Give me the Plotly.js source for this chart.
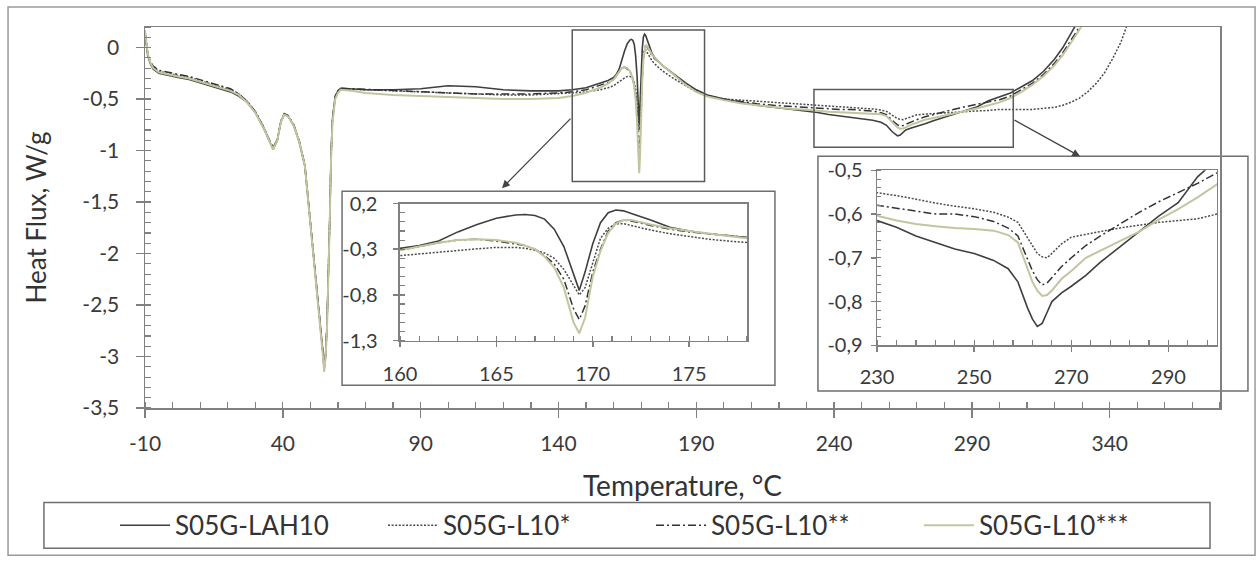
<!DOCTYPE html>
<html>
<head>
<meta charset="utf-8">
<script src="https://cdn.plot.ly/plotly-3.0.1.min.js"></script>
<style>html,body{margin:0;padding:0;background:#fff;}#chart{width:1258px;height:561px;}</style>
</head>
<body>
<div id="chart"></div>
<script>
// ---------------- DATA ----------------
const seriesNames = ['S05G-LAH10', 'S05G-L10*', 'S05G-L10**', 'S05G-L10***'];

const temperature = [
  -10, -9.5, -9, -8, -7, -5, -2, 2, 6, 10,
  14, 18, 21, 24, 27, 30, 33, 35, 36.5, 38,
  39.3, 40.5, 42, 44, 46, 48, 50, 52, 53.5, 54.5,
  55, 55.5, 56, 56.5, 57, 57.5, 58, 59, 60, 61,
  65, 70, 80, 90, 100, 110, 120, 130, 140, 145,
  150, 155, 158, 160, 161, 162, 163, 164, 165, 166,
  166.5, 167, 167.5, 168, 168.5, 169, 169.3, 169.6, 170, 170.4,
  170.8, 171.2, 171.6, 172, 173, 174, 175, 176, 177, 178,
  180, 183, 186, 190, 194, 200, 206, 212, 218, 224,
  230, 234, 238, 242, 246, 250, 254, 257, 259, 261,
  262, 263, 264, 265, 266, 268, 270, 273, 276, 280,
  284, 288, 292, 296, 300, 304, 308, 312, 316, 320,
  323, 326, 329, 332, 335, 338, 341, 344, 347
];

const fluxLAH10 = [
  0.15, 0.02, -0.08, -0.16, -0.21, -0.25, -0.27, -0.29, -0.31, -0.34,
  -0.37, -0.40, -0.43, -0.47, -0.53, -0.63, -0.78, -0.90, -0.99, -0.90,
  -0.72, -0.65, -0.67, -0.76, -0.92, -1.15, -1.70, -2.20, -2.63, -2.95,
  -3.12, -3.00, -2.72, -2.28, -1.70, -1.05, -0.70, -0.48, -0.42, -0.395,
  -0.40, -0.41, -0.41, -0.40, -0.37, -0.38, -0.41, -0.42, -0.42, -0.41,
  -0.39, -0.35, -0.32, -0.29, -0.26, -0.21, -0.11, -0.03, 0.04, 0.075,
  0.08, 0.07, 0.03, -0.08, -0.27, -0.58, -0.75, -0.55, -0.24, -0.01,
  0.10, 0.13, 0.12, 0.09, 0.02, -0.06, -0.10, -0.13, -0.155, -0.18,
  -0.22, -0.28, -0.34, -0.41, -0.46, -0.50, -0.53, -0.56, -0.58, -0.60,
  -0.615, -0.63, -0.65, -0.665, -0.68, -0.69, -0.706, -0.725, -0.755, -0.815,
  -0.84, -0.857, -0.85, -0.825, -0.80, -0.78, -0.765, -0.74, -0.71, -0.675,
  -0.64, -0.605, -0.574, -0.515, -0.475, -0.44, -0.38, -0.32, -0.23, -0.11,
  0.0, 0.14, 0.28, null, null, null, null, null, null
];

const fluxL10a = [
  0.15, 0.03, -0.07, -0.15, -0.19, -0.23, -0.25, -0.27, -0.29, -0.32,
  -0.35, -0.38, -0.41, -0.45, -0.52, -0.62, -0.77, -0.89, -0.98, -0.90,
  -0.72, -0.65, -0.67, -0.76, -0.92, -1.15, -1.70, -2.20, -2.64, -2.96,
  -3.13, -3.00, -2.73, -2.30, -1.72, -1.07, -0.72, -0.49, -0.43, -0.40,
  -0.405, -0.41, -0.42, -0.43, -0.44, -0.45, -0.46, -0.46, -0.45, -0.44,
  -0.43, -0.41, -0.39, -0.37, -0.35, -0.33, -0.31, -0.295, -0.28, -0.28,
  -0.29, -0.31, -0.34, -0.40, -0.52, -0.70, -0.80, -0.72, -0.45, -0.18,
  -0.07, -0.02, -0.02, -0.04, -0.09, -0.13, -0.16, -0.19, -0.21, -0.23,
  -0.27, -0.32, -0.37, -0.43, -0.47, -0.50, -0.51, -0.52, -0.53, -0.54,
  -0.551, -0.558, -0.566, -0.575, -0.582, -0.588, -0.596, -0.607, -0.619, -0.655,
  -0.675, -0.69, -0.698, -0.70, -0.69, -0.668, -0.653, -0.646, -0.64, -0.632,
  -0.625, -0.619, -0.615, -0.611, -0.60, -0.60, -0.60, -0.60, -0.59, -0.58,
  -0.56, -0.53, -0.49, -0.43, -0.35, -0.25, -0.11, 0.05, 0.27
];

const fluxL10b = [
  0.15, 0.04, -0.06, -0.14, -0.18, -0.22, -0.24, -0.26, -0.28, -0.31,
  -0.34, -0.37, -0.40, -0.45, -0.52, -0.62, -0.77, -0.89, -0.97, -0.89,
  -0.71, -0.64, -0.66, -0.75, -0.91, -1.14, -1.69, -2.19, -2.62, -2.94,
  -3.10, -2.98, -2.70, -2.26, -1.68, -1.03, -0.69, -0.47, -0.42, -0.395,
  -0.40, -0.41, -0.42, -0.43, -0.44, -0.45, -0.45, -0.45, -0.44, -0.43,
  -0.41, -0.37, -0.34, -0.31, -0.27, -0.23, -0.20, -0.19, -0.21, -0.24,
  -0.26, -0.30, -0.37, -0.46, -0.63, -0.95, -1.07, -0.92, -0.55, -0.30,
  -0.10, -0.01, 0.02, 0.01, -0.04, -0.08, -0.11, -0.13, -0.155, -0.18,
  -0.22, -0.29, -0.35, -0.42, -0.465, -0.50, -0.525, -0.545, -0.56, -0.57,
  -0.58, -0.586, -0.594, -0.60, -0.60, -0.606, -0.617, -0.632, -0.65, -0.705,
  -0.73, -0.75, -0.762, -0.758, -0.745, -0.72, -0.70, -0.672, -0.65, -0.622,
  -0.596, -0.572, -0.551, -0.53, -0.506, -0.47, -0.41, -0.345, -0.26, -0.15,
  -0.05, 0.07, 0.20, 0.33, null, null, null, null, null
];

const fluxL10c = [
  0.17, 0.05, -0.06, -0.15, -0.20, -0.24, -0.26, -0.28, -0.30, -0.33,
  -0.36, -0.39, -0.42, -0.46, -0.53, -0.63, -0.78, -0.90, -0.99, -0.90,
  -0.72, -0.65, -0.67, -0.76, -0.92, -1.15, -1.71, -2.21, -2.65, -2.98,
  -3.15, -3.02, -2.75, -2.30, -1.72, -1.08, -0.73, -0.50, -0.44, -0.41,
  -0.42, -0.44, -0.46, -0.47, -0.48, -0.49, -0.50, -0.50, -0.49, -0.47,
  -0.44, -0.39, -0.35, -0.31, -0.27, -0.23, -0.20, -0.19, -0.20, -0.23,
  -0.26, -0.30, -0.38, -0.50, -0.72, -1.10, -1.22, -1.05, -0.60, -0.32,
  -0.12, -0.02, 0.02, 0.02, -0.03, -0.07, -0.10, -0.13, -0.155, -0.18,
  -0.22, -0.29, -0.36, -0.43, -0.475, -0.51, -0.54, -0.56, -0.58, -0.593,
  -0.604, -0.615, -0.623, -0.628, -0.632, -0.634, -0.638, -0.648, -0.665, -0.725,
  -0.755, -0.775, -0.787, -0.785, -0.775, -0.748, -0.73, -0.70, -0.683, -0.662,
  -0.64, -0.613, -0.589, -0.562, -0.532, -0.49, -0.43, -0.36, -0.275, -0.17,
  -0.07, 0.05, 0.17, 0.30, null, null, null, null, null
];

// tick labels
const mainXTicks = [-10, 40, 90, 140, 190, 240, 290, 340];
const mainXTickText = ['-10', '40', '90', '140', '190', '240', '290', '340'];
const mainYTicks = [0, -0.5, -1, -1.5, -2, -2.5, -3, -3.5];
const mainYTickText = ['0', '-0,5', '-1', '-1,5', '-2', '-2,5', '-3', '-3,5'];
const inset1XTicks = [160, 165, 170, 175];
const inset1XTickText = ['160', '165', '170', '175'];
const inset1YTicks = [0.2, -0.3, -0.8, -1.3];
const inset1YTickText = ['0,2', '-0,3', '-0,8', '-1,3'];
const inset2XTicks = [230, 250, 270, 290];
const inset2XTickText = ['230', '250', '270', '290'];
const inset2YTicks = [-0.5, -0.6, -0.7, -0.8, -0.9];
const inset2YTickText = ['-0,5', '-0,6', '-0,7', '-0,8', '-0,9'];

const xAxisTitle = 'Temperature, °C';
const yAxisTitle = 'Heat Flux, W/g';

// ---------------- STYLE ----------------
const seriesFlux = [fluxLAH10, fluxL10a, fluxL10b, fluxL10c];
const seriesLine = [
  {color: '#3f3f3f', width: 1.6, dash: 'solid'},
  {color: '#4a4a4a', width: 1.5, dash: '2px,1.6px'},
  {color: '#333333', width: 1.5, dash: '8px,3px,2px,3px'},
  {color: '#c4c4a0', width: 2.0, dash: 'solid'}
];

const traces = [];
const panels = [['x', 'y', true], ['x2', 'y2', false], ['x3', 'y3', false]];
panels.forEach(function (p) {
  seriesNames.forEach(function (name, i) {
    traces.push({
      type: 'scatter', mode: 'lines', name: name,
      x: temperature, y: seriesFlux[i],
      xaxis: p[0], yaxis: p[1], showlegend: p[2],
      connectgaps: false,
      line: seriesLine[i], hoverinfo: 'skip'
    });
  });
});

const axisCol = '#808080';
const tickCol = '#3a3a3a';

function ax(o) {
  const base = {
    showgrid: false, zeroline: false, showline: true, mirror: true,
    linecolor: axisCol, linewidth: 1.5,
    ticks: 'outside', tickcolor: axisCol, tickwidth: 1.5,
    tickmode: 'array', fixedrange: true,
    tickfont: {family: 'Lato', size: 21, color: tickCol}
  };
  return Object.assign(base, o);
}
function cross(o) {
  const base = {
    showgrid: false, zeroline: false, showline: false, showticklabels: false,
    ticks: 'inside', tickcolor: axisCol, tickwidth: 1.5, tickmode: 'array', fixedrange: true
  };
  return Object.assign(base, o);
}

const dom1x = [0.2372, 0.5600], dom1y = [0.1768, 0.5366];
const dom2x = [0.6810, 0.9972], dom2y = [0.1645, 0.6240];

const layout = {
  width: 1258, height: 561,
  margin: {l: 145, r: 38, t: 27, b: 151},
  paper_bgcolor: '#ffffff', plot_bgcolor: '#ffffff',
  separators: ', ',
  font: {family: 'Lato', color: tickCol},
  showlegend: true,
  legend: {
    orientation: 'h', x: -0.0279, xanchor: 'left', y: -0.308, yanchor: 'middle',
    font: {family: 'Lato', size: 26, color: '#333'},
    bgcolor: 'rgba(0,0,0,0)', borderwidth: 0, itemwidth: 50,
    entrywidth: 203, entrywidthmode: 'pixels', traceorder: 'normal'
  },
  xaxis: ax({range: [-10, 380], tickvals: mainXTicks, ticktext: mainXTickText, ticklen: 8,
    ticklabelstandoff: 8,
    minor: {tickmode: 'linear', tick0: -10, dtick: 10, ticks: 'inside', ticklen: 6, tickwidth: 1.2, tickcolor: axisCol},
    title: {text: xAxisTitle, font: {family: 'Lato', size: 28, color: '#333'}, standoff: 22}}),
  yaxis: ax({range: [-3.5, 0.2], tickvals: mainYTicks, ticktext: mainYTickText, ticklen: 8,
    ticklabelstandoff: 12,
    minor: {tickmode: 'linear', tick0: 0, dtick: 0.1, ticks: 'inside', ticklen: 6, tickwidth: 1.2, tickcolor: axisCol},
    title: {text: yAxisTitle, font: {family: 'Lato', size: 26, color: '#333'}, standoff: 28}}),
  xaxis2: ax({domain: dom1x, anchor: 'y2', range: [160, 178], tickvals: inset1XTicks, ticktext: inset1XTickText,
    ticklen: 5, ticklabelstandoff: 10, tickfont: {family: 'Lato', size: 20, color: tickCol},
    minor: {tickmode: 'linear', tick0: 160, dtick: 1, ticks: 'inside', ticklen: 5, tickwidth: 1.2, tickcolor: axisCol}}),
  yaxis2: ax({domain: dom1y, anchor: 'x2', range: [-1.3, 0.2], tickvals: inset1YTicks, ticktext: inset1YTickText,
    ticklen: 5, ticklabelstandoff: 12, tickfont: {family: 'Lato', size: 20, color: tickCol},
    minor: {tickmode: 'linear', tick0: 0.2, dtick: 0.1, ticks: 'inside', ticklen: 5, tickwidth: 1.2, tickcolor: axisCol}}),
  xaxis3: ax({domain: dom2x, anchor: 'y3', range: [230, 300], tickvals: inset2XTicks, ticktext: inset2XTickText,
    ticklen: 5, ticklabelstandoff: 8, tickfont: {family: 'Lato', size: 20, color: tickCol},
    minor: {tickmode: 'linear', tick0: 230, dtick: 4, ticks: 'inside', ticklen: 5, tickwidth: 1.2, tickcolor: axisCol}}),
  yaxis3: ax({domain: dom2y, anchor: 'x3', range: [-0.9, -0.5], tickvals: inset2YTicks, ticktext: inset2YTickText,
    ticklen: 5, ticklabelstandoff: 4, tickfont: {family: 'Lato', size: 20, color: tickCol},
    minor: {tickmode: 'linear', tick0: -0.5, dtick: 0.02, ticks: 'inside', ticklen: 4, tickwidth: 1, tickcolor: axisCol}}),
  // inner halves of the crossing major ticks
  xaxis4: cross({overlaying: 'x', anchor: 'y', side: 'bottom', range: [-10, 380], tickvals: mainXTicks, ticklen: 8}),
  yaxis4: cross({overlaying: 'y', anchor: 'x', side: 'left', range: [-3.5, 0.2], tickvals: mainYTicks, ticklen: 8}),
  xaxis5: cross({overlaying: 'x2', anchor: 'y2', side: 'bottom', range: [160, 178], tickvals: inset1XTicks, ticklen: 5}),
  yaxis5: cross({overlaying: 'y2', anchor: 'x2', side: 'left', range: [-1.3, 0.2], tickvals: inset1YTicks, ticklen: 5}),
  xaxis6: cross({overlaying: 'x3', anchor: 'y3', side: 'bottom', range: [230, 300], tickvals: inset2XTicks, ticklen: 5}),
  yaxis6: cross({overlaying: 'y3', anchor: 'x3', side: 'left', range: [-0.9, -0.5], tickvals: inset2YTicks, ticklen: 5}),
  shapes: [
    // outer frame of the figure
    {type: 'rect', xref: 'paper', yref: 'paper', x0: -0.1274, x1: 1.0326, y0: -0.3864, y1: 1.0522,
      line: {color: '#9a9a9a', width: 1.5}, layer: 'below'},
    // legend box
    {type: 'rect', xref: 'paper', yref: 'paper', x0: -0.094, x1: 0.9907, y0: -0.3681, y1: -0.248,
      line: {color: '#6f6f6f', width: 1.5}, layer: 'below'},
    // inset frames
    {type: 'rect', xref: 'paper', yref: 'paper', x0: 0.1833, x1: 0.586, y0: 0.06, y1: 0.5692,
      line: {color: '#6f6f6f', width: 1.5}, fillcolor: '#ffffff', layer: 'below'},
    {type: 'rect', xref: 'paper', yref: 'paper', x0: 0.626, x1: 1.026, y0: 0.0444, y1: 0.6606,
      line: {color: '#6f6f6f', width: 1.5}, fillcolor: '#ffffff', layer: 'below'},
    // zoom windows on the main plot
    {type: 'rect', xref: 'x', yref: 'y', x0: 145, x1: 193, y0: -1.3, y1: 0.17,
      line: {color: '#5a5a5a', width: 1.5}, layer: 'above'},
    {type: 'rect', xref: 'x', yref: 'y', x0: 232.7, x1: 305, y0: -0.967, y1: -0.406,
      line: {color: '#5a5a5a', width: 1.5}, layer: 'above'}
  ],
  annotations: [
    {xref: 'paper', yref: 'paper', x: 0.3321, y: 0.577, ax: 70, ay: -71, axref: 'pixel', ayref: 'pixel',
      showarrow: true, arrowhead: 2, arrowsize: 1.2, arrowwidth: 1.3, arrowcolor: '#444', text: ''},
    {xref: 'paper', yref: 'paper', x: 0.8698, y: 0.6606, ax: -67, ay: -37, axref: 'pixel', ayref: 'pixel',
      showarrow: true, arrowhead: 2, arrowsize: 1.2, arrowwidth: 1.3, arrowcolor: '#444', text: ''}
  ]
};

Plotly.newPlot('chart', traces, layout, {staticPlot: true, displayModeBar: false});
</script>
</body>
</html>
